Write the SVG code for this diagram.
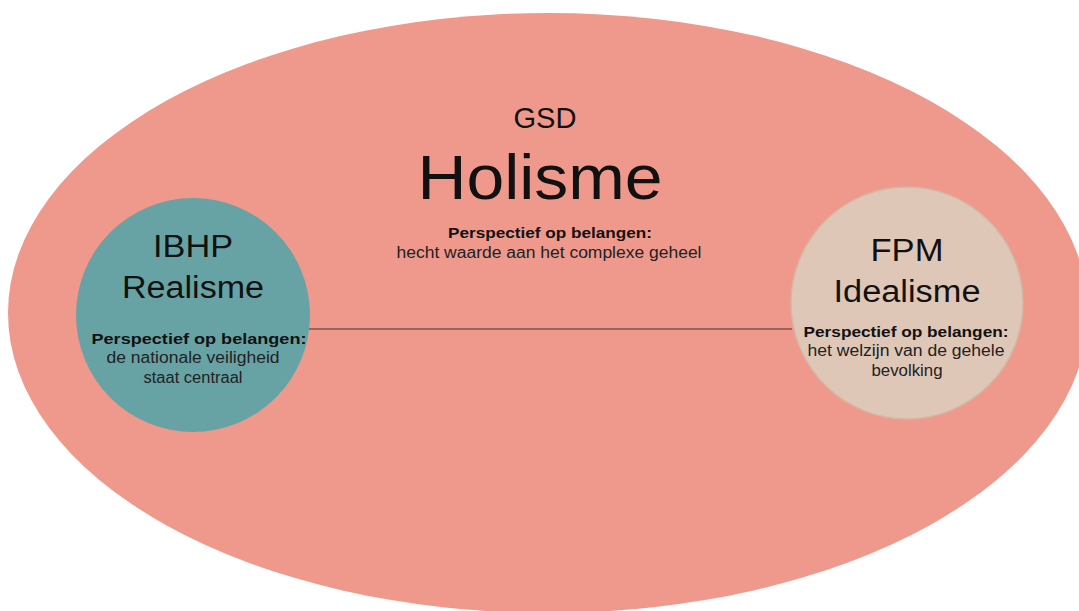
<svg xmlns="http://www.w3.org/2000/svg" width="1079" height="611" viewBox="0 0 1079 611">
<style>
text{font-family:"Liberation Sans",Arial,sans-serif;text-anchor:middle;fill:#111}
.t{font-size:31px}
.b{font-size:15.5px;font-weight:bold}
.r{font-size:16px;fill:#222}
</style>
<rect width="1079" height="611" fill="#ffffff"/>
<g id="gsd">
<ellipse cx="548" cy="313" rx="540" ry="300" fill="#ef998c"/>
<text x="545" y="128" style="font-size:29px" textLength="63" lengthAdjust="spacingAndGlyphs">GSD</text>
<text x="540" y="199" style="font-size:63px" textLength="245" lengthAdjust="spacingAndGlyphs">Holisme</text>
<text class="b" x="550" y="238" textLength="204" lengthAdjust="spacingAndGlyphs">Perspectief op belangen:</text>
<text class="r" x="549" y="258" textLength="305" lengthAdjust="spacingAndGlyphs">hecht waarde aan het complexe geheel</text>
</g>
<g id="connectors">
<line x1="309" y1="329" x2="792" y2="329" stroke="#4a2f2b" stroke-width="1.2"/>
</g>
<g id="ibhp">
<circle cx="193" cy="315" r="117" fill="#67a3a5"/>
<text class="t" x="193" y="257" textLength="80" lengthAdjust="spacingAndGlyphs">IBHP</text>
<text class="t" x="193" y="298" textLength="142" lengthAdjust="spacingAndGlyphs">Realisme</text>
<text class="b" x="199" y="344" textLength="215" lengthAdjust="spacingAndGlyphs">Perspectief op belangen:</text>
<text class="r" x="193" y="363" textLength="173" lengthAdjust="spacingAndGlyphs">de nationale veiligheid</text>
<text class="r" x="193" y="383" textLength="99" lengthAdjust="spacingAndGlyphs">staat centraal</text>
</g>
<g id="fpm">
<circle cx="907" cy="303" r="116" fill="#dfc7b7" stroke="#d4b7a2" stroke-width="1.5"/>
<text class="t" x="907" y="261" textLength="73" lengthAdjust="spacingAndGlyphs">FPM</text>
<text class="t" x="907" y="302" textLength="147" lengthAdjust="spacingAndGlyphs">Idealisme</text>
<text class="b" x="906" y="337" textLength="205" lengthAdjust="spacingAndGlyphs">Perspectief op belangen:</text>
<text class="r" x="906" y="356" textLength="197" lengthAdjust="spacingAndGlyphs">het welzijn van de gehele</text>
<text class="r" x="907" y="376" textLength="71" lengthAdjust="spacingAndGlyphs">bevolking</text>
</g>
</svg>
